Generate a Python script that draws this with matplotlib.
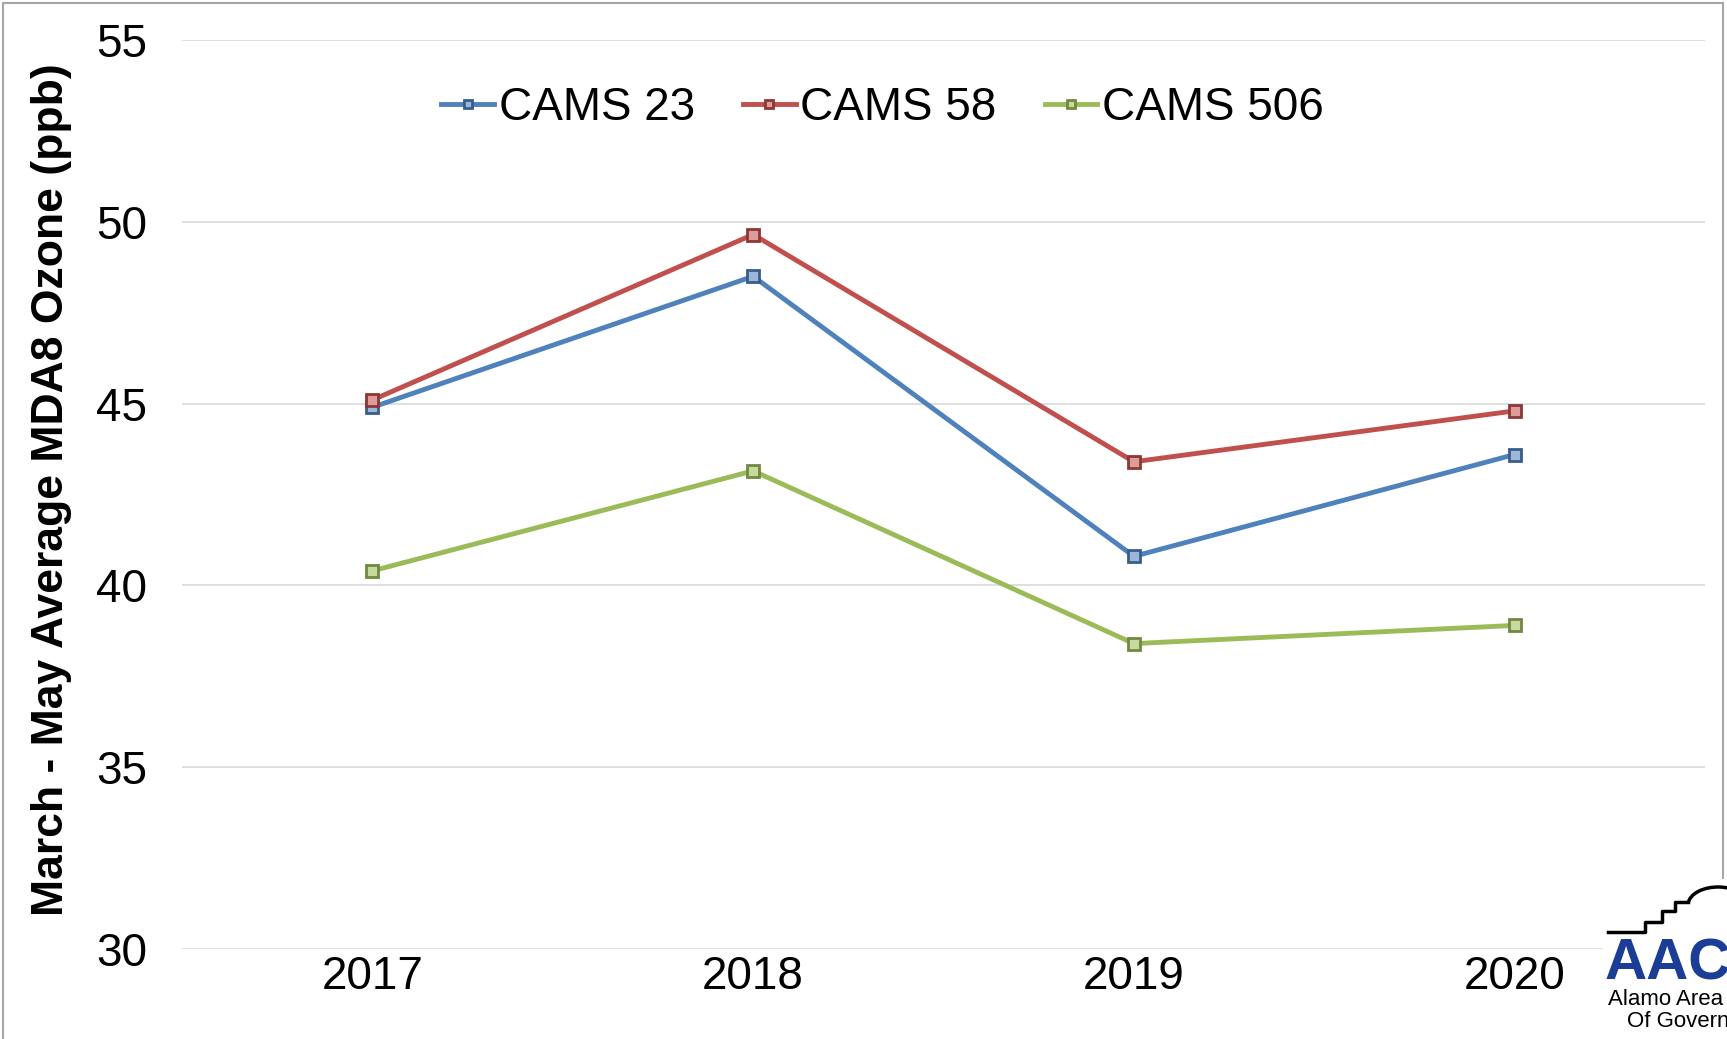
import numpy as np
import matplotlib.pyplot as plt
from matplotlib.patches import Rectangle, Arc

years = ["2017", "2018", "2019", "2020"]
cams23 = [44.9, 48.5, 40.8, 43.6]
cams58 = [45.1, 49.65, 43.4, 44.8]
cams506 = [40.4, 43.15, 38.4, 38.9]
names = ["CAMS 23", "CAMS 58", "CAMS 506"]
yticks = [30, 35, 40, 45, 50, 55]

# line colour, marker edge, marker face
styles = [("#4F81BD", "#385D8A", "#9DB7DA"),
          ("#C0504D", "#8C3836", "#DE9B9A"),
          ("#9BBB59", "#71893F", "#C6DA9E")]

plt.rcParams['font.family'] = ['Liberation Sans', 'DejaVu Sans']

fig = plt.figure(figsize=(17.27, 10.39), dpi=100)
ax = fig.add_axes([0.1054, 0.0866, 0.8819, 0.8749])

x = np.arange(len(years))
for vals, name, (lc, ec, fc) in zip([cams23, cams58, cams506], names, styles):
    ax.plot(x, vals, color=lc, lw=3.5, marker='s', ms=8.3, mec=ec, mfc=fc,
            mew=2, label=name, zorder=3)

ax.set_xlim(-0.5, 3.5)
ax.set_ylim(30, 55)
ax.set_yticks(yticks)
ax.set_xticks(x)
ax.set_xticklabels(years)
ax.grid(axis='y', color='#D9D9D9', lw=1.2)
ax.set_axisbelow(True)
for s in ax.spines.values():
    s.set_visible(False)
ax.tick_params(length=0, labelsize=33, colors='black')
ax.tick_params(axis='y', pad=25)
ax.tick_params(axis='x', pad=4)

fig.text(0.030, 0.529, "March - May Average MDA8 Ozone (ppb)", rotation=90,
         ha='center', va='center', fontsize=32, fontweight='bold')

ax.legend(loc='center', bbox_to_anchor=(0.46, 0.925), ncol=3, frameon=False,
          fontsize=33, handlelength=1.15, handletextpad=0.1, columnspacing=1.05,
          markerscale=0.78)

# chart border
fig.patches.append(Rectangle((3 / 1727, -0.01), 1720 / 1727, 1.01 - 3 / 1039,
                             transform=fig.transFigure, fill=False,
                             ec='#A6A6A6', lw=1.5))

# logo in the corner
fig.patches.append(Rectangle((1603 / 1727, 0), 124 / 1727, 160 / 1039,
                             transform=fig.transFigure, fc='white', ec='none',
                             zorder=5))
sx = [1608, 1645, 1645, 1662, 1662, 1675, 1675, 1688]
sy = [932, 932, 922, 922, 911, 911, 902, 902]
fig.lines.append(plt.Line2D([v / 1727 for v in sx], [1 - v / 1039 for v in sy],
                            transform=fig.transFigure, color='black', lw=2.5,
                            zorder=6))
fig.patches.append(Arc((1718 / 1727, 1 - 905 / 1039), 60 / 1727, 36 / 1039,
                       theta1=0, theta2=175, transform=fig.transFigure,
                       color='black', lw=2.5, zorder=6))
fig.text(1605 / 1727, 1 - 980 / 1039, "AACOG", color='#1B3D96', fontsize=42,
         fontweight='heavy', zorder=7, ha='left', va='baseline')
fig.text(1608 / 1727, 1 - 1005 / 1039, "Alamo Area Council", fontsize=16,
         zorder=7, ha='left', va='baseline')
fig.text(1627 / 1727, 1 - 1027 / 1039, "Of Governments", fontsize=16,
         zorder=7, ha='left', va='baseline')

fig.savefig("out.png", dpi=100)
